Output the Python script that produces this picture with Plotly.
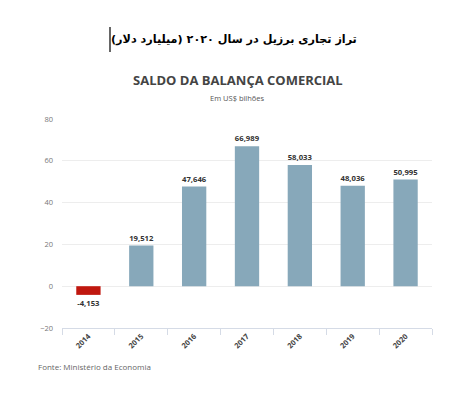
import plotly.graph_objects as go

years = ["2014", "2015", "2016", "2017", "2018", "2019", "2020"]
values = [-4.153, 19.512, 47.646, 66.989, 58.033, 48.036, 50.995]
labels = ["-4,153", "19,512", "47,646", "66,989", "58,033", "48,036", "50,995"]
y_ticks = [-20, 0, 20, 40, 60, 80]

colors = ["#C0170F" if v < 0 else "#87A8BA" for v in values]

L, R, T, B = 62, 432, 119, 328
W, H = 450, 395


def px(x):
    return (x - L) / (R - L)


def py(y):
    return (B - y) / (B - T)


fig = go.Figure(go.Bar(
    x=years, y=values, marker_color=colors, marker_line_width=0,
    text=labels, textposition="outside", cliponaxis=False,
    textfont=dict(family="Open Sans", size=8.5, color="#333333", weight="bold"),
    width=0.46, hoverinfo="skip",
))

fig.update_layout(
    width=W, height=H,
    margin=dict(l=L, r=W - R, t=T, b=H - B, autoexpand=False),
    paper_bgcolor="white", plot_bgcolor="white",
    showlegend=False,
    font=dict(family="Open Sans", color="#666666"),
    uniformtext=dict(minsize=6, mode="show"),
)
fig.update_yaxes(
    range=[-20, 80], tickvals=y_ticks, showgrid=True, gridcolor="#ededed",
    gridwidth=1, zeroline=False, showline=False, automargin=False,
    tickfont=dict(size=7.5, color="#777777"), ticks="", ticklabelstandoff=8,
)
fig.update_xaxes(
    type="category", showline=True, linecolor="#d5dbe6", linewidth=1,
    ticks="outside", tickson="boundaries", ticklen=6, tickcolor="#d5dbe6",
    tickangle=-45, tickfont=dict(size=7.5, color="#444444", weight="bold"),
    showgrid=False, automargin=False,
)

fig.add_annotation(
    x=px(234), y=py(39), xref="paper", yref="paper", showarrow=False,
    text="تراز تجاری برزیل در سال ۲۰۲۰ (میلیارد دلار)",
    font=dict(family="DejaVu Sans", size=11.2, color="#000000", weight="bold"),
    xanchor="center", yanchor="middle",
)
fig.add_annotation(
    x=px(237.5), y=py(80), xref="paper", yref="paper", showarrow=False,
    text="SALDO DA BALANÇA COMERCIAL",
    font=dict(family="Open Sans", size=13, color="#444444", weight="bold"),
    xanchor="center", yanchor="middle",
)
fig.add_annotation(
    x=px(237.5), y=py(98), xref="paper", yref="paper", showarrow=False,
    text="Em US$ bilhões",
    font=dict(family="Open Sans", size=7.5, color="#555555"),
    xanchor="center", yanchor="middle",
)
fig.add_annotation(
    x=px(36), y=py(366), xref="paper", yref="paper", showarrow=False,
    text="Fonte: Ministério da Economia",
    font=dict(family="Open Sans", size=8, color="#666666"),
    xanchor="left", yanchor="middle",
)
fig.add_shape(
    type="line", xref="paper", yref="paper",
    x0=px(110), x1=px(110), y0=py(27), y1=py(52),
    line=dict(color="#000000", width=1.2),
)

fig.write_html("out.html", config={"displayModeBar": False},
               post_script="document.body.style.margin='0';")
